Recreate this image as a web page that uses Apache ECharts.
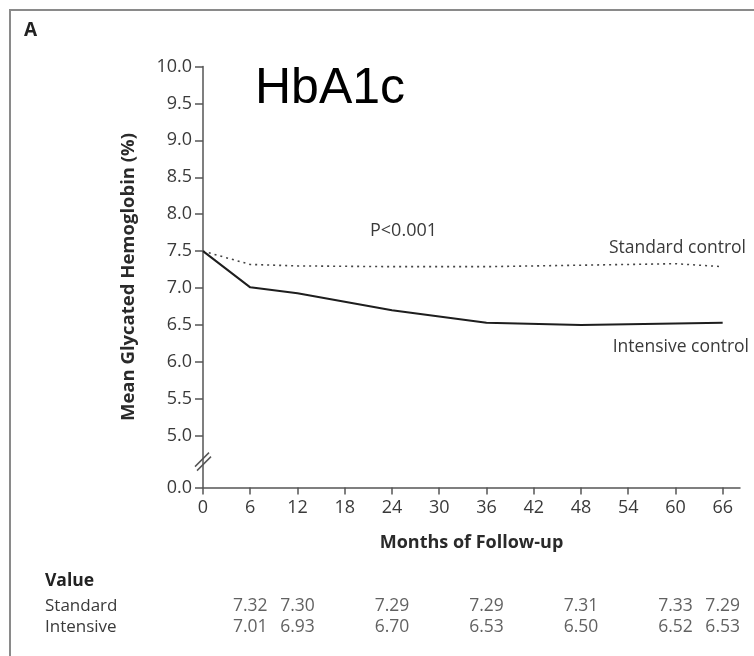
<!DOCTYPE html>
<html>
<head>
<meta charset="utf-8">
<script src="https://cdn.jsdelivr.net/npm/echarts@6/dist/echarts.min.js"></script>
<style>
html,body{margin:0;padding:0;background:#fff;}
#chart{width:754px;height:656px;}
</style>
</head>
<body>
<div id="chart"></div>
<script>
// ---- data ----
const months = [0, 6, 12, 24, 36, 48, 60, 66];
const standard = [7.5, 7.32, 7.30, 7.29, 7.29, 7.31, 7.33, 7.29];
const intensive = [7.5, 7.01, 6.93, 6.70, 6.53, 6.50, 6.52, 6.53];
const xTicks = [0, 6, 12, 18, 24, 30, 36, 42, 48, 54, 60, 66];
const yTickValues = [4.3, 5.0, 5.5, 6.0, 6.5, 7.0, 7.5, 8.0, 8.5, 9.0, 9.5, 10.0];
const yTickLabels = ['0.0', '5.0', '5.5', '6.0', '6.5', '7.0', '7.5', '8.0', '8.5', '9.0', '9.5', '10.0'];
const tableRows = ['Standard', 'Intensive'];

const FONT = '"Open Sans", "Noto Sans", sans-serif';
const TXT = '#3a3a3a';

const chart = echarts.init(document.getElementById('chart'), null, {renderer: 'canvas'});

function yLabel(v) {
  const i = yTickValues.findIndex(t => Math.abs(t - v) < 1e-6);
  return i >= 0 ? yTickLabels[i] : '';
}

const tableData = [];
months.forEach((m, i) => {
  if (m === 0) return;
  tableData.push([m, tableRows[0], standard[i]]);
  tableData.push([m, tableRows[1], intensive[i]]);
});

const option = {
  backgroundColor: '#fff',
  animation: false,
  grid: [
    {left: 203, right: 14, top: 66.5, bottom: 168.5, containLabel: false},
    {left: 203, right: 14, top: 596, height: 42, containLabel: false}
  ],
  xAxis: [
    {
      type: 'value', gridIndex: 0, min: 0, max: 68.2,
      name: 'Months of Follow-up', nameLocation: 'middle', nameGap: 46,
      nameTextStyle: {fontFamily: FONT, fontSize: 18, fontWeight: 'bold', color: '#2a2a2a'},
      axisLine: {show: true, lineStyle: {color: '#555', width: 1.5}},
      axisTick: {show: true, inside: false, length: 7, customValues: xTicks, lineStyle: {color: '#555', width: 1.5}},
      axisLabel: {customValues: xTicks, margin: 11, fontFamily: FONT, fontSize: 18, color: TXT},
      splitLine: {show: false}
    },
    {
      type: 'value', gridIndex: 1, min: 0, max: 68.2, show: false
    }
  ],
  yAxis: [
    {
      type: 'value', gridIndex: 0, min: yTickValues[0], max: 10,
      name: 'Mean Glycated Hemoglobin (%)', nameLocation: 'middle', nameGap: 65,
      nameTextStyle: {fontFamily: FONT, fontSize: 18.5, fontWeight: 'bold', color: '#2a2a2a'},
      axisLine: {show: true, lineStyle: {color: '#555', width: 1.5}},
      axisTick: {show: true, inside: false, length: 8, customValues: yTickValues, lineStyle: {color: '#555', width: 1.5}},
      axisLabel: {customValues: yTickValues, formatter: yLabel, margin: 11, fontFamily: FONT, fontSize: 18, color: TXT, showMinLabel: true, showMaxLabel: true},
      splitLine: {show: false}
    },
    {
      type: 'category', gridIndex: 1, data: tableRows, inverse: true,
      axisLine: {show: false}, axisTick: {show: false},
      axisLabel: {interval: 0, hideOverlap: false, align: 'left', margin: 158, fontFamily: FONT, fontSize: 17, color: TXT}
    }
  ],
  series: [
    {
      name: 'Standard control', type: 'line', xAxisIndex: 0, yAxisIndex: 0,
      data: months.map((m, i) => [m, standard[i]]),
      symbol: 'none', smooth: false,
      lineStyle: {color: '#444', width: 1.6, type: [2, 4]}
    },
    {
      name: 'Intensive control', type: 'line', xAxisIndex: 0, yAxisIndex: 0,
      data: months.map((m, i) => [m, intensive[i]]),
      symbol: 'none', smooth: false,
      lineStyle: {color: '#1e1e1e', width: 2}
    },
    {
      name: 'table', type: 'scatter', xAxisIndex: 1, yAxisIndex: 1,
      data: tableData, symbolSize: 1,
      itemStyle: {color: 'rgba(0,0,0,0)'},
      label: {show: true, position: 'inside', formatter: p => p.value[2].toFixed(2),
        fontFamily: FONT, fontSize: 17.5, color: TXT},
      silent: true
    }
  ],
  graphic: [
    {type: 'rect', shape: {x: 10, y: 10, width: 780, height: 700}, style: {fill: 'none', stroke: '#8a8a8a', lineWidth: 2}, silent: true},
    {type: 'text', x: 24, y: 31, style: {text: 'A', font: 'bold 19px ' + FONT, fill: '#222', verticalAlign: 'middle'}},
    {type: 'text', x: 255, y: 89.5, style: {text: 'HbA1c', font: '50px "Liberation Sans", Arial, sans-serif', fill: '#000', verticalAlign: 'middle'}},
    {type: 'text', x: 370, y: 231, style: {text: 'P<0.001', font: '18px ' + FONT, fill: TXT, verticalAlign: 'middle'}},
    {type: 'text', x: 746, y: 248, style: {text: 'Standard control', font: '17.5px ' + FONT, fill: TXT, align: 'right', verticalAlign: 'middle'}},
    {type: 'text', x: 749, y: 347, style: {text: 'Intensive control', font: '17.5px ' + FONT, fill: TXT, align: 'right', verticalAlign: 'middle'}},
    {type: 'text', x: 45, y: 581, style: {text: 'Value', font: 'bold 17.5px ' + FONT, fill: '#222', verticalAlign: 'middle'}}
  ]
};

chart.setOption(option);

// axis break marks "//" between 0.0 and 5.0
const p = chart.convertToPixel({gridIndex: 0}, [0, (yTickValues[0] + yTickValues[1]) / 2]);
chart.setOption({
  graphic: option.graphic.concat([
    {type: 'line', shape: {x1: p[0] - 8, y1: p[1] + 5, x2: p[0] + 6, y2: p[1] - 9}, style: {stroke: '#555', lineWidth: 1.5}},
    {type: 'line', shape: {x1: p[0] - 6, y1: p[1] + 9, x2: p[0] + 8, y2: p[1] - 5}, style: {stroke: '#555', lineWidth: 1.5}}
  ])
});
</script>
</body>
</html>
